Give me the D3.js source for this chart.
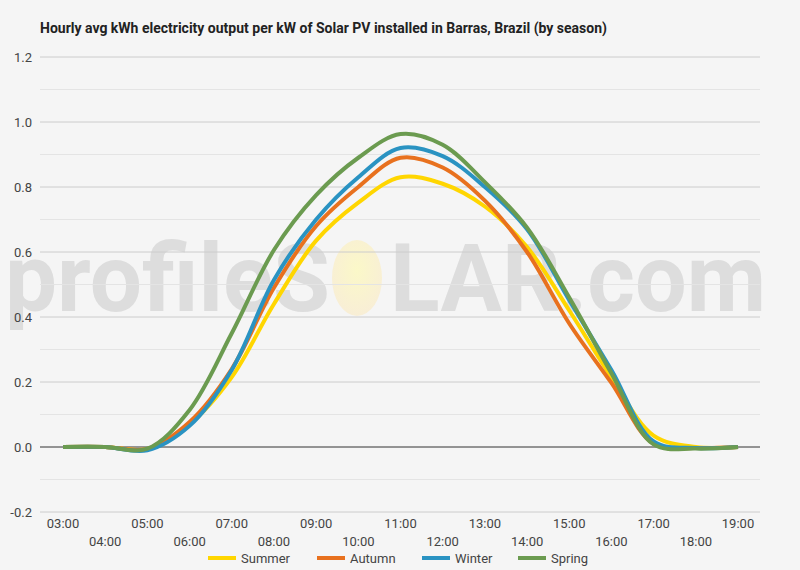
<html><head>
<meta charset="utf-8">
<script src="https://d3js.org/d3.v7.min.js"></script>
<style>
  body { margin: 0; background: #f5f5f5; }
  text { font-family: Roboto, "Liberation Sans", sans-serif; }
</style>
</head>
<body>
<svg id="chart" width="800" height="570"></svg>
<script>

// hours on the x axis and the four seasonal series (kWh per kW)
const hours = ["03:00","04:00","05:00","06:00","07:00","08:00","09:00","10:00","11:00",
               "12:00","13:00","14:00","15:00","16:00","17:00","18:00","19:00"];
const seasons = ["Summer", "Autumn", "Winter", "Spring"];
const summer = [0, 0, -0.006, 0.07, 0.215, 0.44, 0.635, 0.752, 0.83, 0.81, 0.74, 0.615, 0.42, 0.215, 0.035, 0.0, 0];
const autumn = [0, 0, -0.006, 0.077, 0.24, 0.49, 0.68, 0.8, 0.89, 0.86, 0.758, 0.6, 0.38, 0.197, 0.01, -0.003, 0];
const winter = [0, 0, -0.01, 0.065, 0.237, 0.514, 0.70, 0.83, 0.92, 0.895, 0.80, 0.67, 0.452, 0.237, 0.017, -0.003, 0];
const spring = [0, 0, -0.005, 0.114, 0.35, 0.606, 0.775, 0.89, 0.963, 0.93, 0.815, 0.675, 0.46, 0.227, 0.008, -0.005, 0];
const yTicks = [-0.2, 0, 0.2, 0.4, 0.6, 0.8, 1.0, 1.2];
const yMinor = [-0.1, 0.1, 0.3, 0.5, 0.7, 0.9, 1.1];

const colors = { Summer: "#ffd600", Autumn: "#e8711e", Winter: "#2a93c2", Spring: "#6b9b50" };
const series = [summer, autumn, winter, spring];

const svg = d3.select("#chart");
svg.append("rect").attr("width", 800).attr("height", 570).attr("fill", "#f5f5f5");

const left = 40, right = 760;
const x = d3.scalePoint().domain(hours).range([63, 738]);
const y = d3.scaleLinear().domain([-0.2, 1.2]).range([512, 57]);

// watermark (drawn first, everything sits on top of it)
const wm = svg.append("g");
const sun = svg.append("defs").append("radialGradient").attr("id", "sun")
  .attr("cx", "50%").attr("cy", "40%").attr("r", "60%");
sun.append("stop").attr("offset", "0%").attr("stop-color", "#fbf8c8");
sun.append("stop").attr("offset", "100%").attr("stop-color", "#f8eed6");
wm.append("ellipse")
  .attr("cx", 357).attr("cy", 278).attr("rx", 25).attr("ry", 38)
  .attr("fill", "url(#sun)");
wm.append("text")
  .attr("x", 5).attr("y", 311)
  .attr("font-size", 94).attr("font-weight", "bold")
  .attr("fill", "#dddddd")
  .attr("textLength", 325).attr("lengthAdjust", "spacingAndGlyphs")
  .text("profileS");
wm.append("text")
  .attr("x", 390).attr("y", 311)
  .attr("font-size", 94).attr("font-weight", "bold")
  .attr("fill", "#dddddd")
  .attr("textLength", 376).attr("lengthAdjust", "spacingAndGlyphs")
  .text("LAR.com");

// title
svg.append("text")
  .attr("x", 40).attr("y", 33)
  .attr("font-size", 14).attr("font-weight", "bold").attr("fill", "#222")
  .text("Hourly avg kWh electricity output per kW of Solar PV installed in Barras, Brazil (by season)");

// gridlines
svg.selectAll("line.minor").data(yMinor).join("line")
  .attr("class", "minor")
  .attr("x1", left).attr("x2", right)
  .attr("y1", d => y(d)).attr("y2", d => y(d))
  .attr("stroke", "#e4e4e4").attr("stroke-width", 1);

svg.selectAll("line.major").data(yTicks).join("line")
  .attr("class", "major")
  .attr("x1", left).attr("x2", right)
  .attr("y1", d => y(d)).attr("y2", d => y(d))
  .attr("stroke", d => d === 0 ? "#333" : "#cccccc").attr("stroke-width", 1);

svg.selectAll("text.ylab").data(yTicks).join("text")
  .attr("class", "ylab")
  .attr("x", 32).attr("y", d => y(d) + 4.5)
  .attr("text-anchor", "end").attr("font-size", 13).attr("fill", "#444")
  .text(d => d3.format(".1f")(d).replace("\u2212", "-"));

// lines
const line = d3.line()
  .x((d, i) => x(hours[i]))
  .y(d => y(d))
  .curve(d3.curveCatmullRom.alpha(0.5));

svg.selectAll("path.season").data(series).join("path")
  .attr("class", "season")
  .attr("d", line)
  .attr("fill", "none")
  .attr("stroke", (d, i) => colors[seasons[i]])
  .attr("stroke-width", 4)
  .attr("stroke-linejoin", "round");

// x labels, staggered on two rows
svg.selectAll("text.xlab").data(hours).join("text")
  .attr("class", "xlab")
  .attr("x", d => x(d))
  .attr("y", (d, i) => i % 2 === 0 ? 528 : 546)
  .attr("text-anchor", "middle").attr("font-size", 13).attr("fill", "#444")
  .text(d => d);

// legend
const legendX = [208, 317, 422, 518];
const legend = svg.selectAll("g.legend").data(seasons).join("g")
  .attr("class", "legend")
  .attr("transform", (d, i) => "translate(" + legendX[i] + ",558)");
legend.append("line")
  .attr("x1", 0).attr("x2", 28).attr("y1", 0).attr("y2", 0)
  .attr("stroke", d => colors[d]).attr("stroke-width", 4);
legend.append("text")
  .attr("x", 33).attr("y", 4.5)
  .attr("font-size", 13).attr("fill", "#444")
  .text(d => d);

</script>
</body>
</html>
